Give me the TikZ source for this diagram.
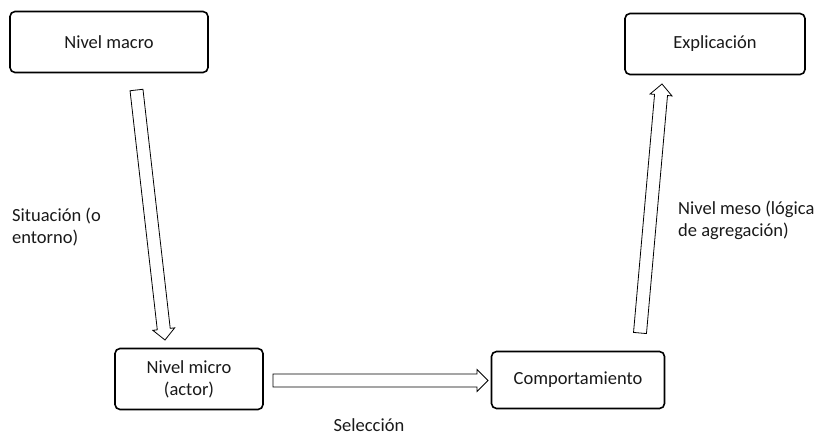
\documentclass[tikz,border=0pt]{standalone}
\usepackage{fontspec}
\setmainfont{Carlito}
\usetikzlibrary{calc}
\tikzset{
  box/.style={draw, line width=1.6pt, rounded corners=5pt, fill=white},
  lbl/.style={font=\fontsize{18.5}{22}\selectfont, text=black!90},
  blockarrow/.style={draw, line width=0.8pt, fill=white, line join=miter},
}
\newcommand{\hollowarrow}[5]{% A, B, shaft half width, head half width, head length
  \draw[blockarrow]
    ($(#1)!#3!-90:(#2)$) --
    ($($(#2)!#5!(#1)$)!#3!90:(#1)$) --
    ($($(#2)!#5!(#1)$)!#4!90:(#1)$) --
    (#2) --
    ($($(#2)!#5!(#1)$)!#4!-90:(#1)$) --
    ($($(#2)!#5!(#1)$)!#3!-90:(#1)$) --
    ($(#1)!#3!90:(#2)$) -- cycle;}
\begin{document}
\begin{tikzpicture}[x=1pt,y=-1pt]
\useasboundingbox (0,0) rectangle (817,436);
% boxes
\node[box, minimum width=198pt, minimum height=61pt, lbl] (macro) at (109,42) {Nivel macro};
\node[box, minimum width=180pt, minimum height=61pt, lbl] (expl) at (715,44) {Explicación};
\node[box, minimum width=148pt, minimum height=61pt, lbl, align=center] (micro) at (189,379) {Nivel micro\\(actor)};
\node[box, minimum width=173pt, minimum height=57pt, lbl] (comp) at (578,380) {Comportamiento};
% arrow end points
\coordinate (a1) at (136.5,90);
\coordinate (a2) at (165,340);
\coordinate (b1) at (273,380.5);
\coordinate (b2) at (488,380.5);
\coordinate (c1) at (640,333);
\coordinate (c2) at (662,84);
\hollowarrow{a1}{a2}{6.5pt}{11pt}{11pt}
\hollowarrow{b1}{b2}{6.5pt}{11pt}{11pt}
\hollowarrow{c1}{c2}{6.5pt}{11pt}{11pt}
% labels
\node[lbl, align=left, anchor=west, inner sep=0pt] (sit) at (12,227) {Situación (o\\entorno)};
\node[lbl, align=left, anchor=west, inner sep=0pt] (meso) at (678,220) {Nivel meso (lógica\\de agregación)};
\node[lbl, inner sep=0pt, anchor=base] (sel) at (369,431.5) {Selección};
\end{tikzpicture}
\end{document}
